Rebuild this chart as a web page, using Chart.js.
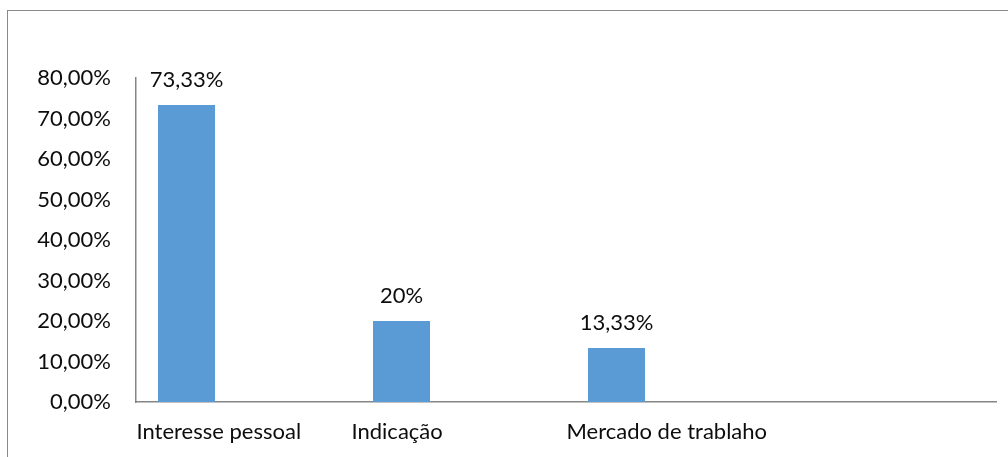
<!DOCTYPE html>
<html>
<head>
<meta charset="utf-8">
<script src="https://cdn.jsdelivr.net/npm/chart.js@4/dist/chart.umd.min.js"></script>
<style>
  html, body { margin: 0; padding: 0; background: #fff; overflow: hidden; }
  #frame {
    position: absolute; left: 7px; top: 10px; width: 1020px; height: 470px;
    border: 1px solid #8a8a8a; box-sizing: border-box;
  }
  #chart { position: absolute; left: 0; top: 0; }
</style>
</head>
<body>
<div id="frame"></div>
<canvas id="chart" width="1008" height="457"></canvas>
<script>
const categories = ['Interesse pessoal', 'Indicação', 'Mercado de trablaho', ''];
const motivoValues = [73.33, 20, 13.33, null];
const emptySeriesA = [];
const emptySeriesB = [];
const valueLabels = ['73,33%', '20%', '13,33%', ''];
const yTicks = [0, 10, 20, 30, 40, 50, 60, 70, 80];

const FONT = { family: 'Lato, "Open Sans", sans-serif', size: 22 };
const TEXT = '#0d0d0d';
const AXIS = '#868686';

// draws the value above each bar of the first series
const valueLabelPlugin = {
    id: 'valueLabels',
    afterDatasetsDraw(chart) {
        const meta = chart.getDatasetMeta(0);
        const ctx = chart.ctx;
        ctx.save();
        ctx.font = `${FONT.size}px ${FONT.family}`;
        ctx.fillStyle = TEXT;
        ctx.textAlign = 'center';
        ctx.textBaseline = 'middle';
        meta.data.forEach((bar, i) => {
            if (motivoValues[i] == null) return;
            ctx.fillText(valueLabels[i], bar.x, bar.y - 25);
        });
        ctx.restore();
    }
};

new Chart(document.getElementById('chart'), {
    type: 'bar',
    data: {
        labels: categories,
        datasets: [
            { label: 'Motivo', data: motivoValues, backgroundColor: '#5b9bd5' },
            { label: 'Série 2', data: emptySeriesA, backgroundColor: '#ed7d31' },
            { label: 'Série 3', data: emptySeriesB, backgroundColor: '#a5a5a5' }
        ]
    },
    options: {
        responsive: false,
        animation: false,
        categoryPercentage: 0.7953,
        barPercentage: 1,
        layout: { padding: { left: 0, right: 12, top: 78, bottom: 0 } },
        plugins: {
            legend: { display: false },
            tooltip: { enabled: false }
        },
        scales: {
            x: {
                grid: { display: false, drawTicks: false },
                border: { display: true, color: AXIS, width: 1.5 },
                afterFit: (scale) => { scale.height = 55; },
                ticks: {
                    autoSkip: false,
                    maxRotation: 0,
                    align: 'start',
                    labelOffset: -107,
                    padding: 17,
                    color: TEXT,
                    font: FONT
                }
            },
            y: {
                min: 0,
                max: 80,
                grid: { display: false, drawTicks: false },
                border: { display: true, color: AXIS, width: 1.5 },
                afterFit: (scale) => { scale.width = 136; },
                afterBuildTicks: (scale) => { scale.ticks = yTicks.map(v => ({ value: v })); },
                ticks: {
                    padding: 25,
                    color: TEXT,
                    font: FONT,
                    callback: (v) => v.toFixed(2).replace('.', ',') + '%'
                }
            }
        }
    },
    plugins: [valueLabelPlugin]
});
</script>
</body>
</html>
